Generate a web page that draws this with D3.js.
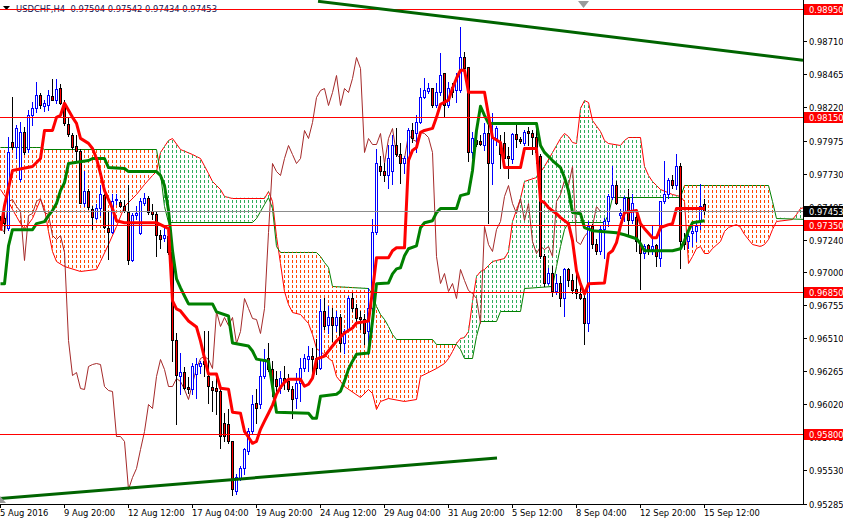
<!DOCTYPE html>
<html><head><meta charset="utf-8">
<script src="https://cdn.jsdelivr.net/npm/d3@7"></script>
<style>
html,body{margin:0;padding:0;background:#fff;}
svg{display:block;}
text{font-family:"DejaVu Sans",Tahoma,sans-serif;font-size:8.4px;white-space:pre;}
</style></head><body>
<svg id="c" width="843" height="521"></svg>
<script>
// ---------------- data ----------------
const symbolTitle = "USDCHF,H4";
const openP = [
0.97389,0.97404,0.97329,0.97961,0.97924,0.97693,0.98035,0.97916,0.98162,0.98214,
0.98311,0.98229,0.98236,0.98303,0.98274,0.98363,0.98251,0.98095,0.98013,0.97931,
0.97894,0.97515,0.97604,0.97471,0.97404,0.97478,0.97574,0.97329,0.97300,0.97537,
0.97523,0.97493,0.97448,0.97091,0.97426,0.97292,0.97515,0.97552,0.97456,0.97433,
0.97277,0.97255,0.97270,0.97151,0.96497,0.96229,0.96259,0.96147,0.96132,0.96244,
0.96303,0.96340,0.96229,0.96147,0.96139,0.96117,0.95880,0.95872,0.95746,0.95374,
0.95470,0.95545,0.95671,0.95820,0.96028,0.96021,0.96229,0.96363,0.96281,0.96206,
0.96139,0.96214,0.96192,0.96132,0.96065,0.96177,0.96288,0.96355,0.96378,0.96363,
0.96288,0.96712,0.96608,0.96668,0.96608,0.96668,0.96474,0.96578,0.96808,0.96735,
0.96668,0.96653,0.96564,0.96735,0.97300,0.97783,0.97753,0.97716,0.97753,0.97939,
0.97879,0.97805,0.97827,0.98050,0.98028,0.98110,0.98296,0.98340,0.98363,0.98236,
0.98333,0.98474,0.98236,0.98370,0.98348,0.98348,0.98593,0.98519,0.97887,0.97976,
0.97968,0.97939,0.98028,0.97805,0.97991,0.97961,0.97954,0.97864,0.97835,0.98021,
0.97983,0.97954,0.98043,0.98028,0.97998,0.97864,0.97121,0.96920,0.96994,0.96861,
0.96920,0.96808,0.97024,0.96942,0.96875,0.96838,0.96808,0.96623,0.97344,0.97210,
0.97158,0.97322,0.97381,0.97559,0.97649,0.97426,0.97441,0.97552,0.97389,0.97411,
0.97210,0.97143,0.97203,0.97173,0.97203,0.97106,0.97530,0.97582,0.97686,0.97649,
0.97790,0.97233,0.97233,0.97292,0.97307,0.97381,0.97504];
const highP = [
0.97419,0.97508,0.97998,0.98296,0.98088,0.98110,0.98073,0.98199,0.98259,0.98407,
0.98326,0.98274,0.98348,0.98430,0.98430,0.98392,0.98274,0.98140,0.98028,0.98013,
0.97909,0.97753,0.97619,0.97493,0.97508,0.97649,0.97582,0.97456,0.97582,0.97582,
0.97537,0.97537,0.97649,0.97441,0.97493,0.97552,0.97589,0.97567,0.97508,0.97448,
0.97314,0.97329,0.97307,0.97173,0.96549,0.96400,0.96296,0.96221,0.96325,0.96363,
0.96340,0.96564,0.96564,0.96192,0.96214,0.96139,0.95954,0.95984,0.95746,0.95500,
0.95560,0.95694,0.95842,0.96087,0.96132,0.96340,0.96430,0.96474,0.96340,0.96266,
0.96266,0.96303,0.96244,0.96154,0.96251,0.96363,0.96392,0.96452,0.96437,0.96504,
0.96801,0.96808,0.96750,0.96735,0.96712,0.96690,0.96578,0.96823,0.96846,0.96764,
0.96712,0.96690,0.96883,0.97396,0.97916,0.97864,0.97805,0.97939,0.98013,0.98065,
0.97954,0.97864,0.98065,0.98102,0.98162,0.98363,0.98437,0.98400,0.98363,0.98400,
0.98623,0.98474,0.98407,0.98400,0.98474,0.98816,0.98630,0.98519,0.98035,0.98013,
0.98013,0.98102,0.98102,0.98177,0.98080,0.98013,0.98035,0.97924,0.98028,0.98110,
0.97998,0.98050,0.98073,0.98050,0.98073,0.97879,0.97136,0.97032,0.97047,0.96987,
0.96972,0.97032,0.97032,0.96987,0.96987,0.96913,0.96846,0.97381,0.97359,0.97247,
0.97344,0.97404,0.97582,0.97790,0.97678,0.97471,0.97567,0.97619,0.97582,0.97433,
0.97381,0.97210,0.97210,0.97344,0.97210,0.97530,0.97827,0.97701,0.97716,0.97879,
0.97812,0.97292,0.97285,0.97344,0.97381,0.97656,0.97542];
const lowP = [
0.97329,0.97292,0.97314,0.97909,0.97842,0.97678,0.97879,0.97887,0.98088,0.98184,
0.98214,0.98192,0.98199,0.98274,0.98251,0.98244,0.98088,0.98006,0.97909,0.97827,
0.97515,0.97493,0.97471,0.97322,0.97396,0.97426,0.97329,0.97099,0.97292,0.97508,
0.97486,0.97448,0.97061,0.97084,0.97396,0.97285,0.97500,0.97433,0.97396,0.97121,
0.97180,0.97233,0.97136,0.96340,0.95872,0.96095,0.96132,0.96102,0.96095,0.96065,
0.96251,0.96229,0.96028,0.95969,0.95947,0.95694,0.95746,0.95731,0.95351,0.95359,
0.95456,0.95500,0.95649,0.95798,0.95880,0.95991,0.96214,0.96266,0.96080,0.96117,
0.96102,0.96132,0.96117,0.95917,0.95991,0.96043,0.96266,0.96266,0.96244,0.96244,
0.96281,0.96578,0.96549,0.96489,0.96564,0.96415,0.96400,0.96564,0.96712,0.96638,
0.96578,0.96467,0.96392,0.96564,0.97285,0.97716,0.97678,0.97626,0.97656,0.97864,
0.97663,0.97738,0.97753,0.97961,0.97887,0.98102,0.98288,0.98326,0.98221,0.98221,
0.98311,0.98147,0.98221,0.98296,0.98259,0.98333,0.98496,0.97827,0.97842,0.97931,
0.97939,0.97902,0.97366,0.97656,0.97939,0.97768,0.97842,0.97701,0.97805,0.97924,
0.97954,0.97939,0.97939,0.97879,0.97805,0.97106,0.96898,0.96913,0.96823,0.96838,
0.96750,0.96675,0.96898,0.96846,0.96808,0.96801,0.96467,0.96564,0.97180,0.97136,
0.97136,0.97106,0.97344,0.97544,0.97508,0.97404,0.97381,0.97285,0.97366,0.97158,
0.96875,0.97106,0.97136,0.97136,0.97047,0.97047,0.97515,0.97552,0.97626,0.97619,
0.97032,0.97173,0.97180,0.97195,0.97233,0.97322,0.97434];
const closeP = [
0.97359,0.97366,0.97887,0.97924,0.98065,0.98035,0.97887,0.98162,0.98214,0.98311,
0.98236,0.98251,0.98311,0.98274,0.98355,0.98251,0.98102,0.98021,0.97924,0.97894,
0.97515,0.97604,0.97486,0.97411,0.97478,0.97582,0.97337,0.97300,0.97530,0.97544,
0.97493,0.97456,0.97091,0.97426,0.97441,0.97530,0.97552,0.97448,0.97433,0.97277,
0.97247,0.97277,0.97151,0.96497,0.96236,0.96259,0.96139,0.96132,0.96303,0.96318,
0.96325,0.96318,0.96154,0.96125,0.96117,0.95783,0.95783,0.95746,0.95389,0.95485,
0.95545,0.95686,0.95820,0.96021,0.95991,0.96229,0.96355,0.96281,0.96154,0.96154,
0.96214,0.96192,0.96132,0.96058,0.96177,0.96288,0.96363,0.96378,0.96355,0.96288,
0.96712,0.96601,0.96668,0.96608,0.96668,0.96474,0.96564,0.96808,0.96735,0.96660,
0.96653,0.96549,0.96735,0.97300,0.97812,0.97753,0.97716,0.97842,0.97939,0.97879,
0.97805,0.97842,0.98050,0.97991,0.98110,0.98296,0.98348,0.98363,0.98236,0.98333,
0.98459,0.98236,0.98363,0.98333,0.98437,0.98593,0.98511,0.97887,0.97991,0.97946,
0.97946,0.98028,0.97812,0.97991,0.98065,0.97879,0.97849,0.97842,0.98021,0.97983,
0.97969,0.98035,0.98028,0.97998,0.97887,0.97121,0.96920,0.96994,0.96861,0.96920,
0.96808,0.97024,0.96942,0.96868,0.96846,0.96808,0.96623,0.97344,0.97210,0.97158,
0.97322,0.97381,0.97567,0.97649,0.97515,0.97441,0.97552,0.97389,0.97515,0.97233,
0.97143,0.97195,0.97173,0.97195,0.97121,0.97530,0.97582,0.97686,0.97649,0.97790,
0.97233,0.97210,0.97270,0.97307,0.97344,0.97493,0.97453];

// Ichimoku lines: [bar index, price]
const tenkan = [[0,0.97307],[1,0.97493],[3,0.97753],[8,0.97783],[9,0.97812],[10,0.97842],[11,0.98050],[13,0.98050],[14,0.98147],[15,0.98162],[16,0.98251],[17,0.98199],[18,0.98147],[19,0.98102],[20,0.97991],[22,0.97954],[23,0.97916],[24,0.97842],[25,0.97730],[26,0.97604],[28,0.97471],[29,0.97381],[31,0.97366],[39,0.97366],[40,0.97352],[42,0.97322],[43,0.96787],[44,0.96727],[45,0.96712],[47,0.96638],[49,0.96593],[50,0.96489],[51,0.96363],[52,0.96244],[54,0.96244],[55,0.96139],[57,0.96132],[58,0.95961],[60,0.95954],[61,0.95820],[62,0.95776],[63,0.95731],[64,0.95746],[65,0.95835],[66,0.95895],[67,0.95954],[68,0.96014],[69,0.96095],[70,0.96147],[71,0.96184],[72,0.96206],[75,0.96206],[76,0.96154],[77,0.96169],[78,0.96214],[79,0.96355],[81,0.96378],[82,0.96415],[84,0.96489],[86,0.96549],[88,0.96586],[89,0.96623],[92,0.96638],[93,0.96861],[94,0.97106],[97,0.97106],[98,0.97158],[99,0.97180],[101,0.97180],[102,0.97827],[103,0.97902],[104,0.97924],[105,0.98035],[106,0.98050],[108,0.98065],[109,0.98147],[110,0.98244],[112,0.98274],[113,0.98363],[114,0.98437],[115,0.98496],[116,0.98496],[117,0.98333],[121,0.98333],[122,0.98162],[123,0.97998],[125,0.97961],[126,0.97775],[130,0.97775],[131,0.97916],[134,0.97916],[135,0.97530],[136,0.97515],[137,0.97478],[139,0.97433],[140,0.97404],[142,0.97359],[143,0.97233],[144,0.97009],[145,0.96913],[146,0.96838],[147,0.96913],[151,0.96920],[152,0.97136],[153,0.97158],[154,0.97218],[155,0.97344],[156,0.97441],[159,0.97456],[160,0.97359],[161,0.97322],[163,0.97255],[164,0.97255],[165,0.97329],[167,0.97352],[168,0.97359],[169,0.97471],[176,0.97471]];
const kijun = [[0,0.96913],[1,0.96913],[2,0.97195],[3,0.97314],[8,0.97314],[9,0.97359],[11,0.97374],[12,0.97419],[13,0.97456],[14,0.97508],[15,0.97604],[16,0.97663],[17,0.97805],[22,0.97827],[23,0.97842],[26,0.97842],[27,0.97775],[31,0.97768],[32,0.97745],[39,0.97745],[40,0.97716],[41,0.97641],[42,0.97456],[43,0.97158],[44,0.96950],[45,0.96883],[46,0.96823],[47,0.96764],[53,0.96764],[54,0.96705],[57,0.96675],[58,0.96474],[62,0.96452],[63,0.96415],[64,0.96355],[67,0.96340],[68,0.96154],[69,0.95961],[77,0.95954],[78,0.95917],[79,0.95917],[80,0.96080],[84,0.96095],[85,0.96117],[86,0.96192],[87,0.96281],[88,0.96340],[89,0.96392],[92,0.96400],[93,0.96638],[94,0.96913],[97,0.96920],[98,0.96987],[99,0.97024],[100,0.97032],[101,0.97121],[102,0.97173],[104,0.97195],[105,0.97329],[106,0.97366],[108,0.97381],[109,0.97441],[110,0.97471],[114,0.97471],[115,0.97567],[117,0.97582],[118,0.97753],[119,0.98050],[120,0.98229],[121,0.98162],[122,0.98102],[134,0.98102],[135,0.97939],[136,0.97887],[138,0.97827],[140,0.97775],[141,0.97701],[142,0.97604],[143,0.97441],[145,0.97433],[146,0.97329],[148,0.97307],[154,0.97292],[156,0.97277],[159,0.97247],[160,0.97210],[161,0.97158],[168,0.97158],[170,0.97173],[171,0.97233],[172,0.97307],[173,0.97366],[176,0.97381]];
const spanA = [[0,0.97619],[2,0.97530],[3,0.97471],[5,0.97366],[6,0.97322],[8,0.97404],[10,0.97544],[11,0.97478],[12,0.97307],[13,0.97158],[14,0.97084],[16,0.97047],[20,0.97009],[24,0.97024],[25,0.97084],[27,0.97210],[29,0.97344],[31,0.97493],[34,0.97582],[36,0.97656],[38,0.97716],[39,0.97753],[40,0.97887],[42,0.97976],[43,0.97991],[45,0.97916],[48,0.97879],[50,0.97842],[52,0.97738],[53,0.97678],[55,0.97619],[56,0.97567],[58,0.97552],[66,0.97552],[67,0.97604],[68,0.97530],[69,0.97270],[70,0.97069],[71,0.96861],[72,0.96764],[73,0.96705],[75,0.96690],[77,0.96623],[78,0.96541],[79,0.96437],[80,0.96415],[83,0.96340],[84,0.96229],[86,0.96154],[90,0.96072],[92,0.96132],[93,0.96102],[94,0.95984],[95,0.96043],[97,0.96065],[101,0.96043],[104,0.96058],[105,0.96229],[109,0.96288],[111,0.96325],[112,0.96363],[113,0.96415],[114,0.96474],[115,0.96511],[116,0.96519],[117,0.96564],[118,0.96787],[119,0.96972],[120,0.97009],[121,0.97024],[123,0.97084],[126,0.97106],[127,0.97158],[128,0.97381],[130,0.97552],[131,0.97678],[134,0.97708],[136,0.97790],[138,0.97887],[140,0.97991],[141,0.98028],[142,0.98006],[143,0.97961],[144,0.97954],[145,0.98214],[146,0.98274],[147,0.98259],[148,0.98125],[150,0.98043],[151,0.97976],[152,0.97954],[155,0.97939],[156,0.97976],[157,0.97998],[160,0.97998],[161,0.97790],[162,0.97716],[163,0.97678],[165,0.97619],[168,0.97582],[170,0.97567],[171,0.97530],[172,0.97069],[173,0.97121],[174,0.97180],[175,0.97195],[176,0.97143],[177,0.97143],[178,0.97180],[180,0.97233],[181,0.97307],[182,0.97337],[184,0.97359],[185,0.97337],[186,0.97285],[188,0.97210],[190,0.97195],[191,0.97210],[192,0.97247],[193,0.97322],[194,0.97381],[198,0.97396],[199,0.97433],[200,0.97478],[202,0.97493]];
const spanB = [[0,0.97924],[10,0.97924],[11,0.97909],[39,0.97909],[40,0.97738],[41,0.97493],[42,0.97374],[63,0.97374],[64,0.97404],[65,0.97456],[66,0.97508],[67,0.97559],[68,0.97478],[69,0.97195],[70,0.97151],[79,0.97151],[80,0.97121],[81,0.97076],[82,0.97039],[83,0.96898],[92,0.96883],[93,0.96838],[94,0.96750],[95,0.96690],[96,0.96653],[97,0.96601],[98,0.96541],[99,0.96504],[108,0.96504],[109,0.96467],[114,0.96467],[115,0.96430],[116,0.96363],[118,0.96363],[119,0.96526],[120,0.96638],[124,0.96638],[125,0.96712],[130,0.96712],[131,0.96883],[138,0.96898],[139,0.97047],[140,0.97195],[141,0.97322],[142,0.97374],[151,0.97374],[152,0.97433],[153,0.97559],[170,0.97559],[171,0.97649],[192,0.97649],[193,0.97530],[194,0.97404],[202,0.97396]];
const chikouShift = 26;

const levelPrices = [0.98950, 0.98150, 0.97350, 0.96850, 0.95800];
const currentPrice = 0.97453;
const priceTicks = [0.98710,0.98465,0.98220,0.97975,0.97730,0.97485,0.97240,0.97000,0.96755,0.96510,0.96265,0.96020,0.95775,0.95530,0.95285];
const timeTickBars = [0,16,32,48,64,80,96,112,128,144,160,176];
const timeLabels = ["5 Aug 2016","9 Aug 20:00","12 Aug 12:00","17 Aug 04:00","19 Aug 20:00","24 Aug 12:00","29 Aug 04:00","31 Aug 20:00","5 Sep 12:00","8 Sep 04:00","12 Sep 20:00","15 Sep 12:00"];
const trendTop = [[79.5,0.99007],[200.75,0.98571]];
const trendBottom = [[0,0.95322],[124.25,0.95622]];

// ---------------- drawing ----------------
const plotRight = 803, plotBottom = 504;
const x = d3.scaleLinear().domain([0, 200]).range([0, 800]);
const y = d3.scaleLinear().domain([0.95285, 0.98950]).range([503.5, 9]);
const svg = d3.select("#c");
const defs = svg.append("defs");
defs.append("clipPath").attr("id","plotClip").append("rect")
  .attr("x",0).attr("y",0).attr("width",plotRight).attr("height",plotBottom);
function hatch(id, color){
  const p = defs.append("pattern").attr("id",id).attr("patternUnits","userSpaceOnUse")
    .attr("x",0).attr("y",0).attr("width",4).attr("height",5);
  p.append("rect").attr("x",0).attr("y",0).attr("width",1).attr("height",3).attr("fill",color);
}
hatch("hatchDown","#FF4500");
hatch("hatchUp","#2EAD5A");
const areaBelowB = d3.area().x(d=>x(d[0])).y0(plotBottom+20).y1(d=>y(d[1]));
const areaAboveB = d3.area().x(d=>x(d[0])).y0(-20).y1(d=>y(d[1]));
defs.append("clipPath").attr("id","belowB").append("path").attr("d", areaBelowB(spanB));
defs.append("clipPath").attr("id","aboveB").append("path").attr("d", areaAboveB(spanB));

// title
svg.append("polygon").attr("points","3,6 10,6 6.5,10").attr("fill","#000");
svg.append("text").attr("x",16).attr("y",11.5).attr("fill","#141450")
  .text(symbolTitle + "  " + [openP[176],highP[176],lowP[176],closeP[176]].map(v=>v.toFixed(5)).join(" "));

const plot = svg.append("g").attr("clip-path","url(#plotClip)");

// span lines
const thin = d3.line().x(d=>x(d[0])+0.5).y(d=>Math.round(y(d[1]))+0.5);
plot.append("path").attr("d", thin(spanA)).attr("fill","none").attr("stroke","#FF0000").attr("stroke-width",1);
plot.append("path").attr("d", thin(spanB)).attr("fill","none").attr("stroke","#008000").attr("stroke-width",1);

// cloud hatch
const polyPts = spanA.map(d=>[x(d[0]), y(d[1])]).concat(spanB.slice().reverse().map(d=>[x(d[0]), y(d[1])]));
const polyD = d3.line()(polyPts) + "Z";
plot.append("g").attr("clip-path","url(#belowB)").append("path").attr("d",polyD)
  .attr("fill","url(#hatchDown)").attr("fill-rule","evenodd");
plot.append("g").attr("clip-path","url(#aboveB)").append("path").attr("d",polyD)
  .attr("fill","url(#hatchUp)").attr("fill-rule","evenodd");

// chikou span: closes shifted back
const chikou = closeP.map((c,i)=>[i-chikouShift, c]).filter(d=>d[0]>=0);
plot.append("path").attr("d", thin(chikou)).attr("fill","none").attr("stroke","#A52A2A").attr("stroke-width",1);

// candles
const bars = openP.map((o,i)=>({i, o, h:highP[i], l:lowP[i], c:closeP[i]}));
const cg = plot.append("g");
cg.selectAll("line").data(bars).join("line")
  .attr("x1", d=>x(d.i)+0.5).attr("x2", d=>x(d.i)+0.5)
  .attr("y1", d=>Math.round(y(d.h))).attr("y2", d=>Math.round(y(d.l))+1)
  .attr("stroke", d=>d.c>=d.o ? "#0000FF" : "#000000").attr("stroke-width",1);
cg.selectAll("rect").data(bars).join("rect")
  .attr("x", d=>x(d.i)-0.5).attr("width",2)
  .attr("y", d=>Math.round(y(Math.max(d.o,d.c)))+0.5)
  .attr("height", d=>Math.max(0, Math.round(y(Math.min(d.o,d.c))) - Math.round(y(Math.max(d.o,d.c)))))
  .attr("fill", d=>d.c>=d.o ? "#FFFFFF" : "#FF0000")
  .attr("stroke", d=>d.c>=d.o ? "#0000FF" : "#000000").attr("stroke-width",1);

// tenkan / kijun
const thick = d3.line().x(d=>x(d[0])+0.5).y(d=>y(d[1]));
plot.append("path").attr("d", thick(kijun)).attr("fill","none").attr("stroke","#008000").attr("stroke-width",3).attr("stroke-linejoin","round");
plot.append("path").attr("d", thick(tenkan)).attr("fill","none").attr("stroke","#FF0000").attr("stroke-width",3).attr("stroke-linejoin","round");

// horizontal levels
plot.selectAll("line.lvl").data(levelPrices).join("line").attr("class","lvl")
  .attr("x1",0).attr("x2",plotRight).attr("y1",d=>Math.round(y(d))+0.5).attr("y2",d=>Math.round(y(d))+0.5)
  .attr("stroke","#FF0000").attr("stroke-width",1);
plot.append("line").attr("x1",0).attr("x2",plotRight)
  .attr("y1",Math.round(y(currentPrice))+0.5).attr("y2",Math.round(y(currentPrice))+0.5)
  .attr("stroke","#8C8C8C").attr("stroke-width",1);

// trend lines
const tl = d3.line().x(d=>x(d[0])).y(d=>y(d[1]));
plot.append("path").attr("d", tl(trendTop)).attr("stroke","#006400").attr("stroke-width",3).attr("fill","none");
plot.append("path").attr("d", tl(trendBottom)).attr("stroke","#006400").attr("stroke-width",3).attr("fill","none");

// markers
svg.append("polygon").attr("points","578,1 589,1 583.5,8").attr("fill","#9A9A9A");
svg.append("polygon").attr("points","0,496 6,503 0,503").attr("fill","#9A9A9A");

// axes
svg.append("line").attr("x1",plotRight+0.5).attr("x2",plotRight+0.5).attr("y1",0).attr("y2",plotBottom+1).attr("stroke","#000");
svg.append("line").attr("x1",0).attr("x2",plotRight+1).attr("y1",plotBottom+0.5).attr("y2",plotBottom+0.5).attr("stroke","#000");

const ra = svg.append("g");
priceTicks.forEach(v=>{
  const ty = Math.round(y(v));
  ra.append("line").attr("x1",plotRight).attr("x2",plotRight+4).attr("y1",ty+0.5).attr("y2",ty+0.5).attr("stroke","#000");
  ra.append("text").attr("x",809).attr("y",ty+3.5).attr("fill","#000").text(v.toFixed(5));
});
const ba = svg.append("g");
timeTickBars.forEach((b,k)=>{
  const tx = x(b)+0.5;
  ba.append("line").attr("x1",tx).attr("x2",tx).attr("y1",plotBottom).attr("y2",plotBottom+4).attr("stroke","#000");
  ba.append("text").attr("x",x(b)).attr("y",516).attr("fill","#000").text(timeLabels[k]);
});

// price boxes
function box(v, fill){
  const ty = Math.round(y(v));
  svg.append("rect").attr("x",804).attr("y",ty-5).attr("width",39).attr("height",11).attr("fill",fill);
  svg.append("text").attr("x",809).attr("y",ty+3.5).attr("fill","#FFFFFF").text(v.toFixed(5));
}
levelPrices.forEach(v=>box(v,"#FF0000"));
box(currentPrice,"#000000");
</script>
</body></html>
